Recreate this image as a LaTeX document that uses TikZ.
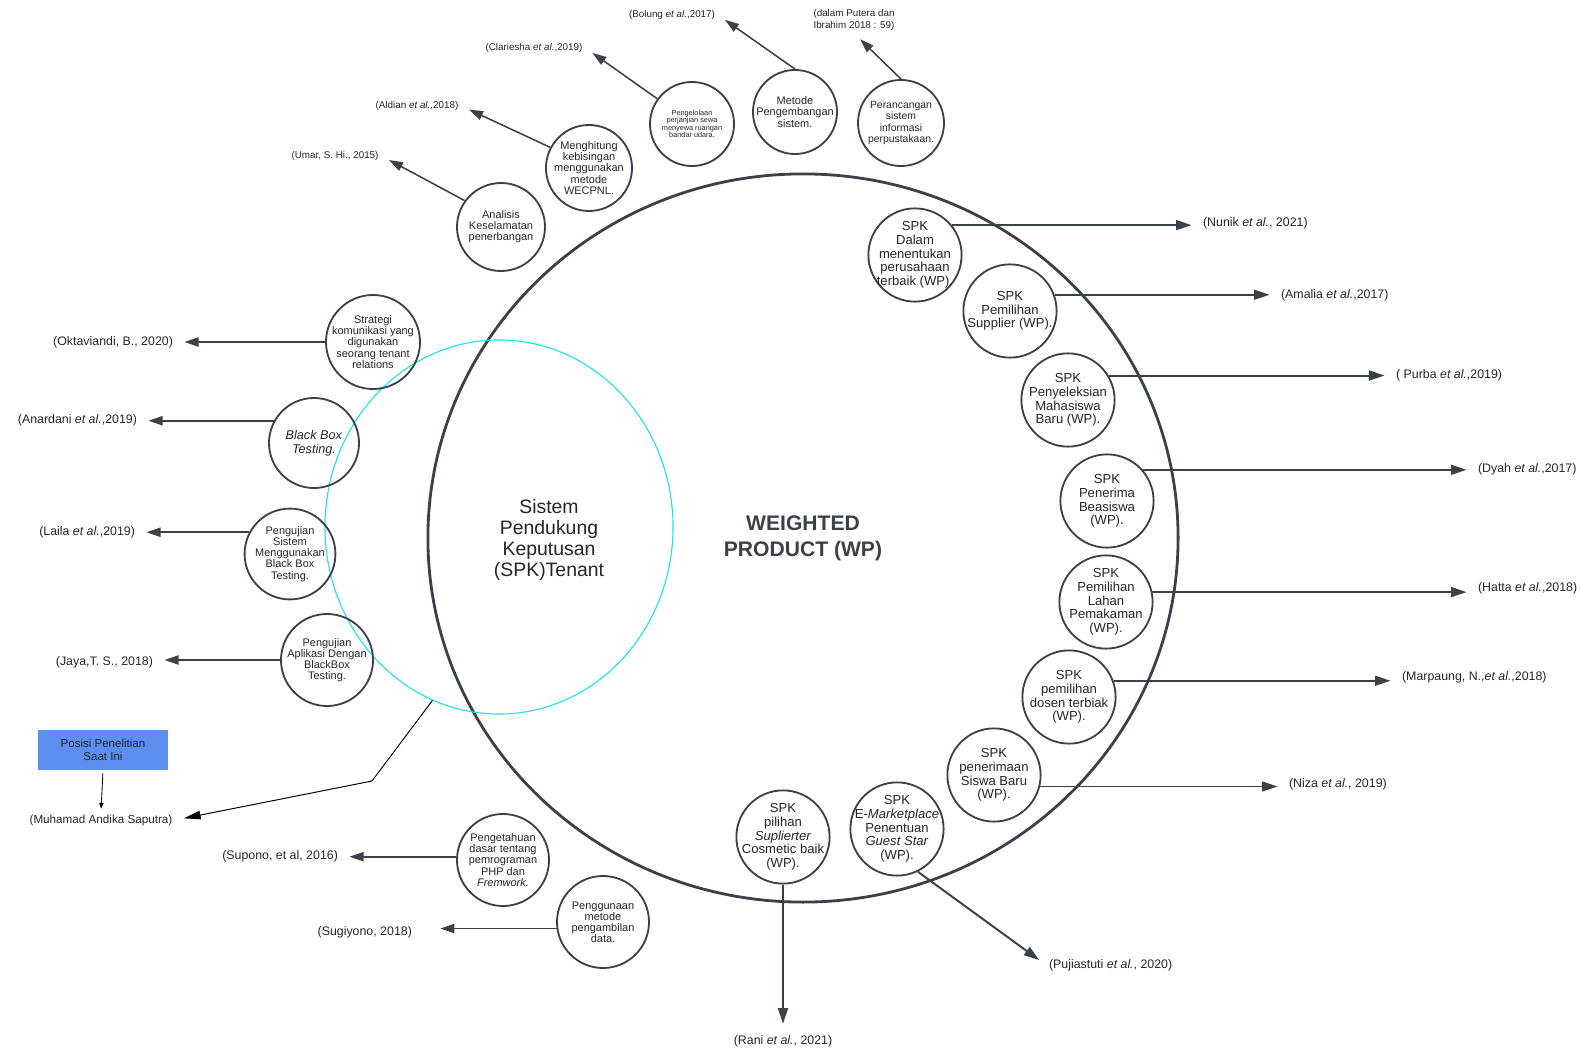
\documentclass[tikz,border=0pt]{standalone}
\usepackage{fontspec}
\setmainfont{Liberation Sans}
\usepackage{tikz}
\usetikzlibrary{
    positioning,
    shapes.geometric,
    arrows.meta
}
\definecolor{garis}{RGB}{60,65,73}
\definecolor{tinta}{RGB}{35,37,40}
\definecolor{biru}{RGB}{92,143,240}
\definecolor{sian}{RGB}{30,228,236}
\tikzset{
    >={Triangle[length=10pt,width=6.5pt]},
    bulat/.style={
        circle,
        draw=garis,
        line width=1.3pt,
        minimum size=2.3cm,
        inner sep=-12pt,
        align=center,
        text=tinta,
        font=\fontsize{7.8}{7.9}\selectfont
    },
    bulatwp/.style={
        bulat,
        minimum size=2.33cm,
        font=\fontsize{9.3}{9.8}\selectfont
    },
    rujukan/.style={
        inner sep=2pt,
        text=tinta,
        font=\fontsize{8.8}{10}\selectfont
    },
    rujukanatas/.style={
        rujukan,
        font=\fontsize{7}{8}\selectfont
    },
    panah/.style={
        ->,
        color=garis,
        line width=1.1pt,
        shorten >=6pt
    },
    panahtebal/.style={
        >={Triangle[length=11pt,width=7pt]},
        panah,
        line width=1.4pt
    },
    wpring/.style={
        ellipse,
        draw=garis,
        line width=2pt,
        minimum width=18.75cm,
        minimum height=18.2cm,
        inner sep=0pt,
        align=center,
        text=garis,
        font=\bfseries\fontsize{15}{18.5}\selectfont
    },
    spkring/.style={
        ellipse,
        draw=sian,
        line width=0.8pt,
        minimum width=8.7cm,
        minimum height=9.35cm
    },
    judulspk/.style={
        align=center,
        text=tinta,
        font=\fontsize{13.8}{15}\selectfont
    },
    posisi/.style={
        fill=biru,
        minimum width=3.25cm,
        minimum height=1.02cm,
        align=center,
        text=tinta,
        font=\fontsize{8.2}{9}\selectfont
    }
}

\begin{document}
\begin{tikzpicture}[
    x=0.025cm,
    y=-0.025cm
]

    \useasboundingbox (0,0) rectangle (1581,1051);

    % Lingkaran utama
    \node[wpring]   (wp)       at (803,538) {WEIGHTED\\PRODUCT (WP)};
    \node[spkring]  (spk)      at (499,527) {};
    \node[judulspk] (spkjudul) at (549,540) {Sistem\\Pendukung\\Keputusan\\(SPK)Tenant};

    % Topik di atas
    \node[bulat, minimum size=2.2cm]  (c1) at (501,227) {Analisis\\Keselamatan\\penerbangan};
    \node[bulat, minimum size=2.15cm] (c2) at (589,168) {Menghitung\\kebisingan\\menggunakan\\metode\\WECPNL.};
    \node[bulat, minimum size=2.1cm, font=\fontsize{5.2}{5.3}\selectfont]
                                      (c3) at (692,124) {Pengelolaan\\perjanjian sewa\\menyewa ruangan\\bandar udara.};
    \node[bulat, minimum size=2.1cm]  (c4) at (795,112) {Metode\\Pengembangan\\sistem.};
    \node[bulat, minimum size=2.15cm, font=\fontsize{7.4}{7.9}\selectfont]
                                      (c5) at (901,123) {Perancangan\\sistem\\informasi\\perpustakaan.};

    % Topik di kiri
    \node[bulat, minimum size=2.35cm] (c6)  at (373,342) {Strategi\\komunikasi yang\\digunakan\\seorang tenant\\relations};
    \node[bulat, minimum size=2.25cm, font=\fontsize{9}{10}\selectfont]
                                      (c7)  at (314,443) {\textit{Black Box}\\\textit{Testing.}};
    \node[bulat, minimum size=2.27cm] (c8)  at (290,554) {Pengujian\\Sistem\\Menggunakan\\Black Box\\Testing.};
    \node[bulat]                      (c9)  at (327,660) {Pengujian\\Aplikasi Dengan\\BlackBox\\Testing.};
    \node[bulat]                      (c10) at (503,860) {Pengetahuan\\dasar tentang\\pemrograman\\PHP dan\\\textit{Fremwork.}};
    \node[bulat]                      (c11) at (603,922) {Penggunaan\\metode\\pengambilan\\data.};

    % Topik WP
    \node[bulatwp] (c12) at (915,255)  {SPK\\Dalam\\menentukan\\perusahaan\\terbaik (WP).};
    \node[bulatwp] (c13) at (1010,311) {SPK\\Pemilihan\\Supplier (WP).};
    \node[bulatwp] (c14) at (1068,400) {SPK\\Penyeleksian\\Mahasiswa\\Baru (WP).};
    \node[bulatwp] (c15) at (1107,501) {SPK\\Penerima\\Beasiswa\\(WP).};
    \node[bulatwp] (c16) at (1106,602) {SPK\\Pemilihan\\Lahan\\Pemakaman\\(WP).};
    \node[bulatwp] (c17) at (1069,697) {SPK\\pemilihan\\dosen terbiak\\(WP).};
    \node[bulatwp] (c18) at (994,775)  {SPK\\penerimaan\\Siswa Baru\\(WP).};
    \node[bulatwp] (c19) at (897,829)  {SPK\\E-\textit{Marketplace}\\Penentuan\\\textit{Guest Star}\\(WP).};
    \node[bulatwp] (c20) at (783,837)  {SPK\\pilihan\\\textit{Suplierter}\\Cosmetic baik\\(WP).};

    % Rujukan
    \node[rujukanatas] (n1) at (335,156) {(Umar, S. Hi., 2015)};
    \node[rujukanatas] (n2) at (417,106) {(Aldian \textit{et al.},2018)};
    \node[rujukanatas] (n3) at (534,48)  {(Clariesha \textit{et al.},2019)};
    \node[rujukanatas] (n4) at (672,15)  {(Bolung \textit{et al.},2017)};
    \node[rujukanatas, align=left] (n5) at (854,20) {(dalam Putera dan\\Ibrahim 2018 : 59)};

    \node[rujukan, anchor=east] (l6)  at (176,342) {(Oktaviandi, B., 2020)};
    \node[rujukan, anchor=east] (l7)  at (140,420) {(Anardani \textit{et al.},2019)};
    \node[rujukan, anchor=east] (l8)  at (138,532) {(Laila \textit{et al.},2019)};
    \node[rujukan, anchor=east] (l9)  at (156,662) {(Jaya,T. S., 2018)};
    \node[rujukan, anchor=east] (l10) at (341,856) {(Supono, et al, 2016)};
    \node[rujukan, anchor=east] (l11) at (415,932) {(Sugiyono, 2018)};

    \node[rujukan, anchor=west] (r12) at (1200,223) {(Nunik \textit{et al.}, 2021)};
    \node[rujukan, anchor=west] (r13) at (1278,295) {(Amalia \textit{et al.},2017)};
    \node[rujukan, anchor=west] (r14) at (1393,375) {( Purba \textit{et al.},2019)};
    \node[rujukan, anchor=west] (r15) at (1475,469) {(Dyah \textit{et al.},2017)};
    \node[rujukan, anchor=west] (r16) at (1475,588) {(Hatta \textit{et al.},2018)};
    \node[rujukan, anchor=west] (r17) at (1399,677) {(Marpaung, N.,\textit{et al.},2018)};
    \node[rujukan, anchor=west] (r18) at (1286,784) {(Niza \textit{et al.}, 2019)};
    \node[rujukan, anchor=west] (r19) at (1046,965) {(Pujiastuti \textit{et al.}, 2020)};
    \node[rujukan]              (r20) at (783,1041) {(Rani \textit{et al.}, 2021)};

    % Posisi penelitian
    \node[posisi] (pos) at (103,750) {Posisi Penelitian\\Saat Ini};
    \node[rujukan, font=\fontsize{8.3}{10}\selectfont] (saya) at (101,820) {(Muhamad Andika Saputra)};
    \coordinate (tekuk) at (372,781);

    % Panah
    \path[panah]
        (c1.144)   edge (n1.east)
        (c2.152)   edge (n2.east)
        (c3.144)   edge (n3.east)
        (c4.north) edge (n4.east)
        (c5.north) edge (n5.south)
        (c6.180)   edge (c6.180 -| l6.east)
        (c7.151)   edge (c7.151 -| l7.east)
        (c8.152)   edge (c8.152 -| l8.east)
        (c9.180)   edge (c9.180 -| l9.east)
        (c10.176)  edge (c10.176 -| l10.east)
        (c11.188)  edge[shorten >=18pt] (c11.188 -| l11.east);

    \path[panahtebal]
        (c12.39)   edge (c12.39 -| r12.west)
        (c13.20)   edge (c13.20 -| r13.west)
        (c14.31)   edge (c14.31 -| r14.west)
        (c15.41)   edge (c15.41 -| r15.west)
        (c16.12)   edge (c16.12 -| r16.west)
        (c17.20)   edge (c17.20 -| r17.west)
        (c18.-14)  edge (c18.-14 -| r18.west)
        (c19.-64)  edge (r19.west)
        (c20.south) edge (r20.north);

    \draw[-{Triangle[length=4pt,width=3pt]}, line width=0.6pt, shorten <=2pt, shorten >=2pt]
        (pos.south) -- (saya.north);
    \draw[-{Triangle[length=12pt,width=6pt]}, line width=0.7pt, shorten >=6pt]
        (spk.249) -- (tekuk) -- (saya.east);

\end{tikzpicture}
\end{document}
